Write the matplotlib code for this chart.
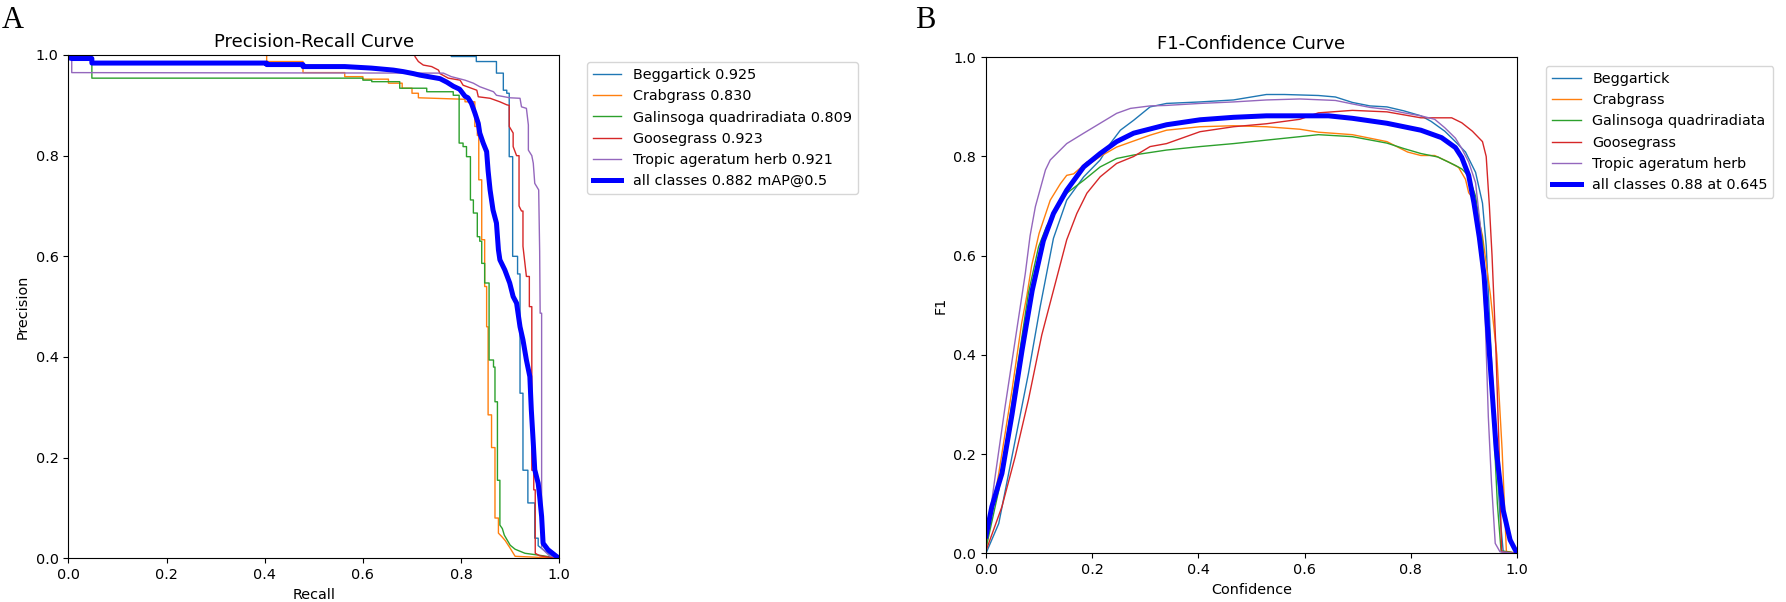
import matplotlib
matplotlib.use("Agg")
import matplotlib.pyplot as plt

# ---------------- data ----------------
classes = ["Beggartick", "Crabgrass", "Galinsoga quadriradiata", "Goosegrass", "Tropic ageratum herb"]
ap50 = [0.925, 0.830, 0.809, 0.923, 0.921]
map50 = 0.882
best_f1 = 0.88
best_conf = 0.645

# Precision-Recall curves (recall, precision)
pr_r_beggartick = [0.000, 0.780, 0.780, 0.831, 0.831, 0.872, 0.872, 0.886, 0.886, 0.893, 0.893, 0.898, 0.898, 0.905, 0.905,
                   0.915, 0.915, 0.920, 0.920, 0.926, 0.926, 0.936, 0.936, 0.950, 0.950, 0.957, 0.957, 0.970, 0.985, 1.000]
pr_p_beggartick = [1.000, 1.000, 0.997, 0.997, 0.987, 0.987, 0.964, 0.964, 0.930, 0.930, 0.924, 0.924, 0.798, 0.798, 0.600,
                   0.600, 0.565, 0.565, 0.328, 0.328, 0.175, 0.175, 0.110, 0.110, 0.040, 0.040, 0.025, 0.015, 0.005, 0.000]

pr_r_crabgrass = [0.000, 0.404, 0.404, 0.478, 0.478, 0.563, 0.563, 0.600, 0.600, 0.652, 0.652, 0.680, 0.680, 0.700, 0.700,
                  0.713, 0.713, 0.808, 0.808, 0.828, 0.828, 0.833, 0.833, 0.836, 0.836, 0.842, 0.842, 0.848, 0.848, 0.852,
                  0.852, 0.855, 0.855, 0.862, 0.862, 0.869, 0.869, 0.876, 0.876, 0.883, 0.890, 0.900, 0.910, 1.000]
pr_p_crabgrass = [1.000, 1.000, 0.987, 0.987, 0.965, 0.965, 0.957, 0.957, 0.952, 0.952, 0.944, 0.944, 0.934, 0.934, 0.924,
                  0.924, 0.915, 0.912, 0.907, 0.907, 0.858, 0.858, 0.840, 0.840, 0.752, 0.752, 0.633, 0.633, 0.540, 0.540,
                  0.460, 0.460, 0.285, 0.285, 0.220, 0.220, 0.080, 0.080, 0.050, 0.043, 0.035, 0.020, 0.004, 0.000]

pr_r_galinsoga = [0.000, 0.048, 0.048, 0.600, 0.600, 0.618, 0.618, 0.675, 0.675, 0.730, 0.730, 0.784, 0.784, 0.796, 0.796,
                  0.804, 0.804, 0.811, 0.811, 0.819, 0.819, 0.825, 0.825, 0.833, 0.833, 0.838, 0.838, 0.842, 0.842, 0.848,
                  0.848, 0.857, 0.857, 0.866, 0.866, 0.869, 0.869, 0.874, 0.874, 0.879, 0.879, 0.884, 0.888, 0.894, 0.900,
                  0.910, 0.930, 0.960, 1.000]
pr_p_galinsoga = [1.000, 1.000, 0.954, 0.954, 0.950, 0.950, 0.947, 0.947, 0.934, 0.934, 0.927, 0.927, 0.920, 0.920, 0.825,
                  0.825, 0.818, 0.818, 0.798, 0.798, 0.712, 0.712, 0.686, 0.686, 0.639, 0.639, 0.630, 0.630, 0.586, 0.586,
                  0.547, 0.547, 0.394, 0.394, 0.380, 0.380, 0.311, 0.311, 0.155, 0.155, 0.066, 0.059, 0.046, 0.036, 0.026,
                  0.018, 0.010, 0.006, 0.000]

pr_r_goosegrass = [0.000, 0.706, 0.706, 0.713, 0.723, 0.740, 0.754, 0.757, 0.774, 0.798, 0.804, 0.832, 0.835, 0.859, 0.879,
                   0.893, 0.898, 0.898, 0.906, 0.906, 0.913, 0.918, 0.918, 0.923, 0.926, 0.926, 0.933, 0.939, 0.939, 0.944,
                   0.944, 0.948, 0.948, 0.951, 0.951, 0.960, 0.980, 1.000]
pr_p_goosegrass = [1.000, 1.000, 0.997, 0.987, 0.980, 0.977, 0.970, 0.963, 0.954, 0.950, 0.940, 0.930, 0.917, 0.914, 0.907,
                   0.901, 0.900, 0.858, 0.845, 0.818, 0.800, 0.800, 0.700, 0.690, 0.690, 0.620, 0.560, 0.560, 0.500, 0.500,
                   0.175, 0.175, 0.136, 0.136, 0.010, 0.005, 0.002, 0.000]

pr_r_tropic = [0.000, 0.007, 0.007, 0.764, 0.780, 0.808, 0.825, 0.838, 0.866, 0.872, 0.899, 0.920, 0.923, 0.933, 0.937,
               0.937, 0.944, 0.947, 0.950, 0.958, 0.960, 0.961, 0.964, 0.964, 0.980, 1.000]
pr_p_tropic = [1.000, 1.000, 0.965, 0.964, 0.957, 0.950, 0.944, 0.937, 0.927, 0.920, 0.915, 0.914, 0.897, 0.894, 0.861,
               0.811, 0.800, 0.785, 0.745, 0.732, 0.610, 0.487, 0.487, 0.020, 0.005, 0.000]

pr_r_all = [0.000, 0.007, 0.048, 0.048, 0.404, 0.404, 0.478, 0.478, 0.563, 0.617, 0.662, 0.682, 0.703, 0.716, 0.757,
            0.771, 0.784, 0.797, 0.808, 0.814, 0.821, 0.828, 0.835, 0.838, 0.845, 0.852, 0.855, 0.859, 0.865, 0.872,
            0.876, 0.879, 0.889, 0.899, 0.906, 0.913, 0.920, 0.926, 0.933, 0.940, 0.943, 0.947, 0.950, 0.957, 0.960,
            0.964, 0.967, 0.977, 0.994, 1.000]
pr_p_all = [0.995, 0.993, 0.993, 0.984, 0.984, 0.981, 0.981, 0.977, 0.977, 0.974, 0.970, 0.967, 0.963, 0.960, 0.953,
            0.946, 0.938, 0.932, 0.918, 0.915, 0.904, 0.885, 0.864, 0.845, 0.825, 0.808, 0.770, 0.732, 0.692, 0.666,
            0.613, 0.593, 0.573, 0.547, 0.520, 0.507, 0.460, 0.434, 0.394, 0.361, 0.295, 0.229, 0.176, 0.149, 0.123,
            0.083, 0.030, 0.017, 0.004, 0.000]

# F1-Confidence curves (confidence, F1)
f1_c_beggartick = [0.0, 0.024, 0.055, 0.080, 0.102, 0.127, 0.152, 0.184, 0.215, 0.234, 0.253, 0.278, 0.309, 0.340, 0.403,
                   0.466, 0.528, 0.562, 0.626, 0.658, 0.690, 0.723, 0.755, 0.787, 0.819, 0.838, 0.864, 0.884, 0.903, 0.922,
                   0.935, 0.942, 0.951, 0.961, 0.968, 0.974, 1.0]
f1_v_beggartick = [0.0, 0.06, 0.228, 0.363, 0.497, 0.635, 0.712, 0.759, 0.793, 0.826, 0.853, 0.873, 0.900, 0.907, 0.910,
                   0.914, 0.925, 0.925, 0.923, 0.920, 0.909, 0.902, 0.900, 0.892, 0.882, 0.871, 0.851, 0.830, 0.809, 0.768,
                   0.706, 0.62, 0.41, 0.208, 0.074, 0.004, 0.0]

f1_c_crabgrass = [0.0, 0.024, 0.049, 0.067, 0.077, 0.086, 0.100, 0.121, 0.140, 0.152, 0.165, 0.180, 0.190, 0.196, 0.215,
                  0.246, 0.309, 0.340, 0.403, 0.466, 0.528, 0.591, 0.626, 0.690, 0.755, 0.794, 0.819, 0.845, 0.871, 0.890,
                  0.903, 0.909, 0.919, 0.935, 0.950, 0.962, 0.972, 0.980, 1.0]
f1_v_crabgrass = [0.01, 0.161, 0.329, 0.463, 0.52, 0.58, 0.645, 0.712, 0.745, 0.762, 0.765, 0.779, 0.789, 0.786, 0.800,
                  0.819, 0.843, 0.853, 0.860, 0.862, 0.860, 0.855, 0.849, 0.844, 0.830, 0.809, 0.802, 0.802, 0.789, 0.778,
                  0.754, 0.727, 0.713, 0.64, 0.52, 0.40, 0.208, 0.004, 0.0]

f1_c_galinsoga = [0.0, 0.024, 0.043, 0.062, 0.080, 0.099, 0.114, 0.143, 0.152, 0.184, 0.215, 0.246, 0.278, 0.340, 0.403,
                  0.466, 0.528, 0.591, 0.626, 0.690, 0.755, 0.787, 0.819, 0.851, 0.884, 0.896, 0.909, 0.922, 0.935, 0.945,
                  0.955, 0.963, 0.970, 1.0]
f1_v_galinsoga = [0.01, 0.127, 0.262, 0.396, 0.525, 0.618, 0.659, 0.712, 0.726, 0.752, 0.779, 0.796, 0.803, 0.813, 0.820,
                  0.826, 0.833, 0.840, 0.844, 0.840, 0.827, 0.816, 0.806, 0.799, 0.782, 0.775, 0.761, 0.72, 0.63, 0.47,
                  0.28, 0.10, 0.005, 0.0]

f1_c_goosegrass = [0.0, 0.030, 0.055, 0.080, 0.105, 0.127, 0.152, 0.171, 0.190, 0.215, 0.246, 0.278, 0.309, 0.340, 0.403,
                   0.466, 0.528, 0.591, 0.626, 0.690, 0.755, 0.787, 0.819, 0.877, 0.896, 0.916, 0.935, 0.942, 0.948, 0.953,
                   0.960, 0.966, 0.971, 1.0]
f1_v_goosegrass = [0.005, 0.094, 0.195, 0.31, 0.44, 0.53, 0.632, 0.685, 0.726, 0.759, 0.786, 0.800, 0.820, 0.826, 0.850,
                   0.860, 0.866, 0.875, 0.888, 0.893, 0.890, 0.884, 0.878, 0.878, 0.868, 0.851, 0.830, 0.80, 0.70, 0.60,
                   0.42, 0.22, 0.003, 0.0]

f1_c_tropic = [0.0, 0.018, 0.036, 0.055, 0.074, 0.083, 0.093, 0.112, 0.121, 0.152, 0.184, 0.215, 0.246, 0.272, 0.309,
               0.340, 0.403, 0.466, 0.528, 0.591, 0.658, 0.690, 0.723, 0.755, 0.787, 0.819, 0.845, 0.864, 0.884, 0.896,
               0.909, 0.922, 0.933, 0.940, 0.946, 0.952, 0.959, 0.968, 1.0]
f1_v_tropic = [0.02, 0.161, 0.296, 0.43, 0.564, 0.64, 0.699, 0.773, 0.793, 0.826, 0.847, 0.867, 0.887, 0.897, 0.902,
               0.903, 0.907, 0.910, 0.914, 0.916, 0.913, 0.906, 0.899, 0.895, 0.888, 0.882, 0.875, 0.858, 0.837, 0.816,
               0.789, 0.747, 0.64, 0.477, 0.275, 0.141, 0.02, 0.003, 0.0]

f1_c_all = [0.0, 0.011, 0.030, 0.049, 0.068, 0.087, 0.108, 0.127, 0.152, 0.184, 0.215, 0.246, 0.278, 0.340, 0.403,
            0.466, 0.528, 0.591, 0.645, 0.690, 0.755, 0.819, 0.858, 0.884, 0.896, 0.909, 0.919, 0.929, 0.938, 0.943,
            0.952, 0.961, 0.974, 0.987, 1.0]
f1_v_all = [0.035, 0.094, 0.161, 0.28, 0.41, 0.53, 0.63, 0.685, 0.732, 0.779, 0.806, 0.830, 0.847, 0.864, 0.874,
            0.879, 0.882, 0.882, 0.882, 0.877, 0.867, 0.853, 0.838, 0.818, 0.798, 0.762, 0.706, 0.637, 0.56, 0.477,
            0.343, 0.208, 0.087, 0.027, 0.0]

pr_curves = [(pr_r_beggartick, pr_p_beggartick), (pr_r_crabgrass, pr_p_crabgrass), (pr_r_galinsoga, pr_p_galinsoga),
             (pr_r_goosegrass, pr_p_goosegrass), (pr_r_tropic, pr_p_tropic)]
f1_curves = [(f1_c_beggartick, f1_v_beggartick), (f1_c_crabgrass, f1_v_crabgrass), (f1_c_galinsoga, f1_v_galinsoga),
             (f1_c_goosegrass, f1_v_goosegrass), (f1_c_tropic, f1_v_tropic)]

# ---------------- style ----------------
colors = ["#1f77b4", "#ff7f0e", "#2ca02c", "#d62728", "#9467bd"]
FS = 10.4
plt.rcParams["font.family"] = ["DejaVu Sans"]
plt.rcParams["font.size"] = FS

W, H = 1786, 602
fig = plt.figure(figsize=(W / 100, H / 100), dpi=100)

# axes positions in pixels (left, top, right, bottom)
def px_axes(l, t, r, b):
    return fig.add_axes([l / W, 1 - b / H, (r - l) / W, (b - t) / H])

ax1 = px_axes(68.3, 55.0, 559.3, 558.3)
ax2 = px_axes(986.0, 57.3, 1517.0, 553.3)

THIN = 1.0
THICK = 3.6

# Panel A: PR curve
for (r, p), name, ap, col in zip(pr_curves, classes, ap50, colors):
    ax1.plot(r, p, color=col, lw=THIN, label=f"{name} {ap:.3f}")
ax1.plot(pr_r_all, pr_p_all, color="blue", lw=THICK, label=f"all classes {map50:.3f} mAP@0.5")
ax1.set_xlim(0, 1)
ax1.set_ylim(0, 1)
ax1.set_xlabel("Recall", fontsize=FS)
ax1.set_ylabel("Precision", fontsize=FS)
ax1.set_title("Precision-Recall Curve", fontsize=13)
ax1.legend(loc="upper left", bbox_to_anchor=(1.056, 0.9855), borderaxespad=0, fontsize=FS)

# Panel B: F1 curve
for (c, f), name, col in zip(f1_curves, classes, colors):
    ax2.plot(c, f, color=col, lw=THIN, label=name)
ax2.plot(f1_c_all, f1_v_all, color="blue", lw=THICK, label=f"all classes {best_f1:.2f} at {best_conf:.3f}")
ax2.set_xlim(0, 1)
ax2.set_ylim(0, 1)
ax2.set_xlabel("Confidence", fontsize=FS)
ax2.set_ylabel("F1", fontsize=FS)
ax2.set_title("F1-Confidence Curve", fontsize=13)
ax2.legend(loc="upper left", bbox_to_anchor=(1.0546, 0.982), borderaxespad=0, fontsize=FS)

for ax in (ax1, ax2):
    ax.set_xticks([0.0, 0.2, 0.4, 0.6, 0.8, 1.0])
    ax.set_yticks([0.0, 0.2, 0.4, 0.6, 0.8, 1.0])
    ax.tick_params(labelsize=FS)

# Panel letters
fig.text(2 / W, 1 - 28 / H, "A", fontsize=22, family="Liberation Serif", va="baseline", ha="left")
fig.text(915 / W, 1 - 28 / H, "B", fontsize=22, family="Liberation Serif", va="baseline", ha="left")

fig.savefig("out.png", dpi=100)
